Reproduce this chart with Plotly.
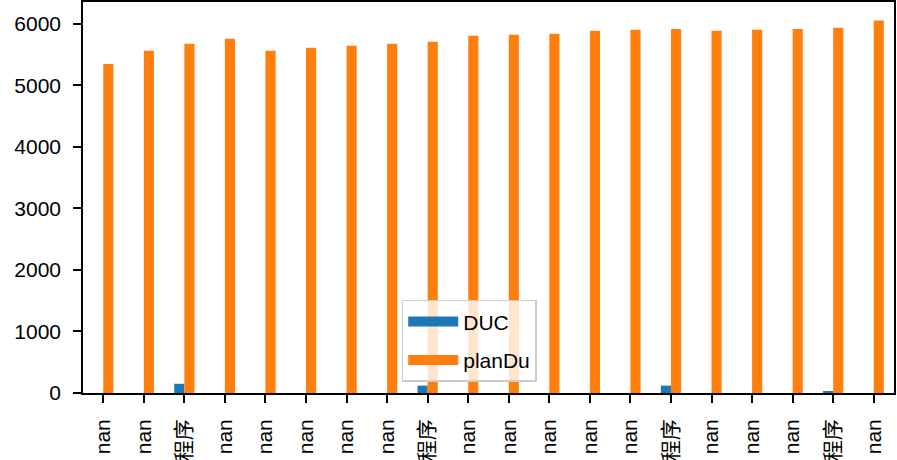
import plotly.graph_objects as go

categories = ["nan", "nan", "程序", "nan", "nan", "nan", "nan", "nan", "程序", "nan",
              "nan", "nan", "nan", "nan", "程序", "nan", "nan", "nan", "程序", "nan"]
duc = [0, 0, 150, 0, 0, 0, 0, 0, 120, 0,
       0, 0, 0, 0, 120, 0, 0, 0, 30, 0]
plandu = [5350, 5565, 5680, 5760, 5565, 5615, 5645, 5680, 5710, 5810,
          5825, 5840, 5890, 5905, 5920, 5890, 5905, 5920, 5940, 6055]
yticks = [0, 1000, 2000, 3000, 4000, 5000, 6000]

x = list(range(len(categories)))
font = "Liberation Sans, Noto Sans CJK SC, sans-serif"
c_duc, c_plan = "#1f77b4", "#ff7f0e"

fig = go.Figure()
fig.add_trace(go.Bar(x=x, y=duc, name="DUC", marker=dict(color=c_duc, line=dict(width=0)),
                     showlegend=False))
fig.add_trace(go.Bar(x=x, y=plandu, name="planDu", marker=dict(color=c_plan, line=dict(width=0)),
                     showlegend=False))
# legend entries (no marks drawn)
fig.add_trace(go.Scatter(x=[None], y=[None], mode="lines", name="DUC", legendgroup="a",
                         line=dict(color=c_duc, width=13)))
fig.add_trace(go.Scatter(x=[None], y=[None], mode="lines", name="planDu", legendgroup="b",
                         line=dict(color=c_plan, width=13)))

fig.update_layout(
    width=897, height=460,
    margin=dict(l=83, r=3, t=2, b=67),
    paper_bgcolor="white", plot_bgcolor="white",
    barmode="group", bargap=0.5, bargroupgap=0,
    font=dict(family=font, size=21, color="black"),
    showlegend=True,
    legend=dict(x=0.393, y=0.238, xanchor="left", yanchor="top",
                bgcolor="rgba(255,255,255,0.8)", bordercolor="#cccccc", borderwidth=1.5,
                font=dict(family=font, size=21), traceorder="grouped", tracegroupgap=8,
                itemwidth=50),
)
fig.update_xaxes(
    range=[-0.5, len(categories) - 0.5],
    tickmode="array", tickvals=x, ticktext=categories, tickangle=-90,
    ticks="outside", ticklen=8, tickwidth=1.6, tickcolor="black",
    showline=True, mirror=True, linecolor="black", linewidth=1.6,
    showgrid=False, zeroline=False, automargin=False, ticklabelstandoff=8,
    tickfont=dict(family=font, size=21),
)
fig.update_yaxes(
    range=[0, 6357],
    tickmode="array", tickvals=yticks, ticktext=[str(v) for v in yticks],
    ticks="outside", ticklen=8, tickwidth=1.6, tickcolor="black",
    showline=True, mirror=True, linecolor="black", linewidth=1.6,
    showgrid=False, zeroline=False, automargin=False, ticklabelstandoff=8,
    tickfont=dict(family=font, size=21),
)

fig.write_html("out.html", config={"displayModeBar": False},
               post_script="document.body.style.margin='0';")
